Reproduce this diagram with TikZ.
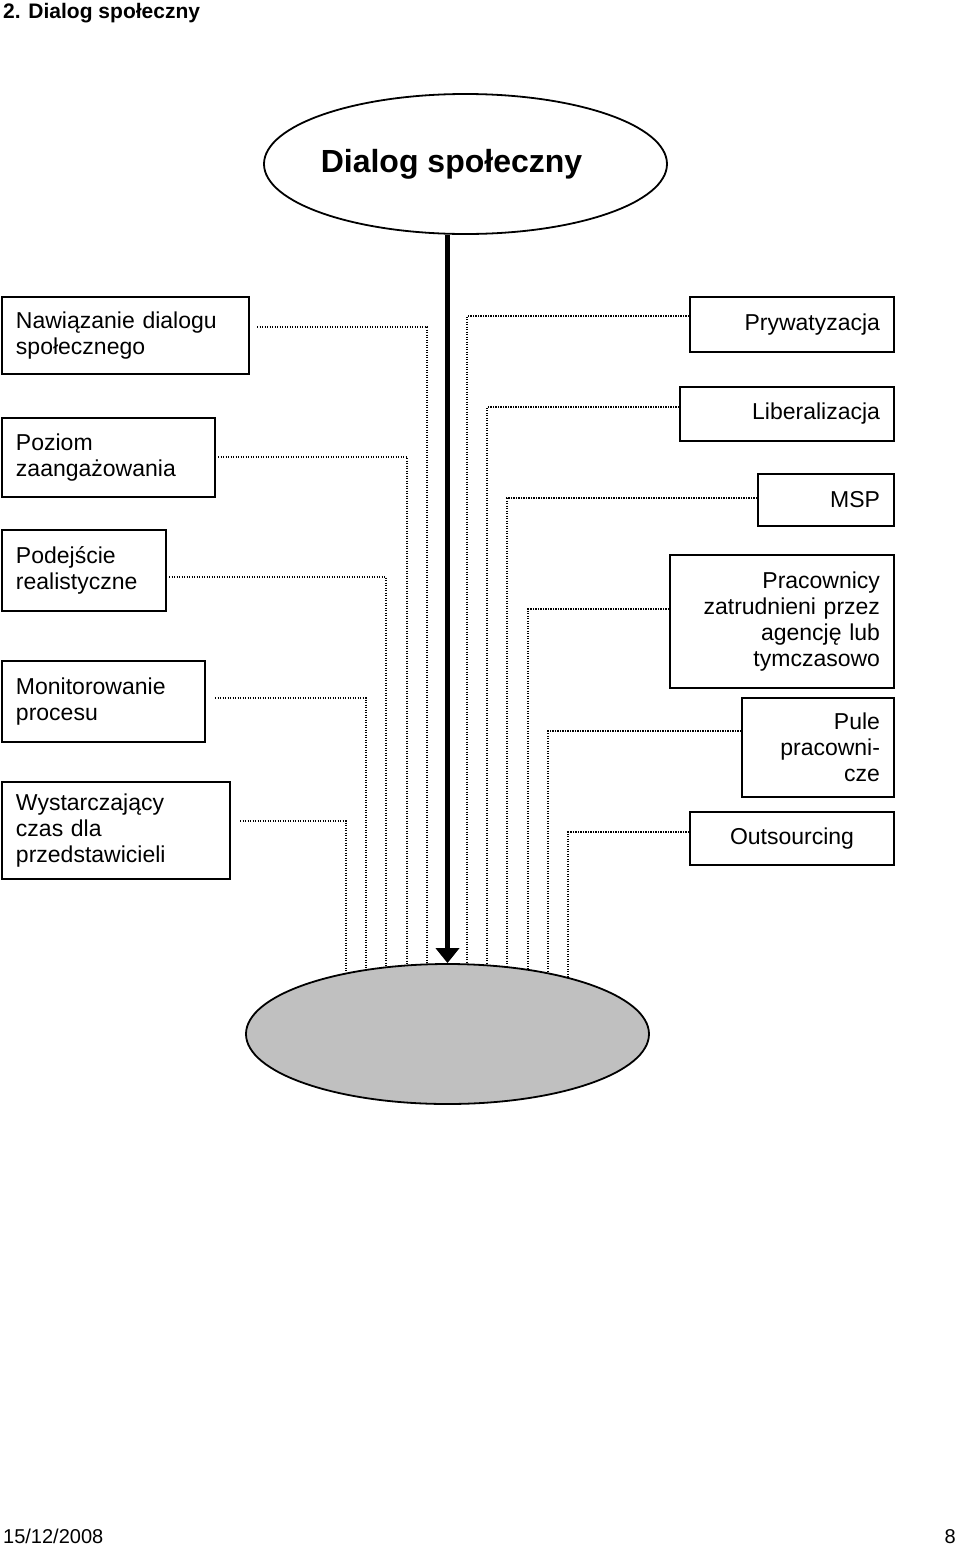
\documentclass[tikz,border=0pt]{standalone}
\usepackage{fontspec}
\setmainfont{Liberation Sans}
\usetikzlibrary{arrows.meta,shapes.geometric}

\pgfdeclarelayer{background}
\pgfsetlayers{background,main}

\tikzset{
  leftbox/.style={draw, line width=2pt, inner xsep=14pt, inner ysep=0pt,
    align=left, anchor=north west, font=\fontsize{23}{26}\selectfont},
  rightbox/.style={leftbox, align=right},
  dotline/.style={line width=1.2pt, dash pattern=on 1.2pt off 1.3pt},
  mainarrow/.style={line width=5pt, -{Triangle[width=23pt,length=15pt]}}
}

\begin{document}
\begin{tikzpicture}[x=1pt, y=-1pt]
  \useasboundingbox (0,0) rectangle (960,1545);

  % header and footer
  \node[anchor=base west, inner sep=0, font=\fontsize{21}{24}\selectfont\bfseries] (head) at (3,18) {2. Dialog społeczny};
  \node[anchor=base west, inner sep=0, font=\fontsize{20}{24}\selectfont] (date) at (3,1543) {15/12/2008};
  \node[anchor=base east, inner sep=0, font=\fontsize{20}{24}\selectfont] (page) at (956,1543) {8};

  % the two ellipses
  \node[draw, ellipse, line width=1.8pt, minimum width=403pt, minimum height=140pt,
    label={[xshift=-14pt, font=\fontsize{32}{36}\selectfont\bfseries]center:Dialog społeczny}] (top) at (465.5,164) {};
  \node[draw, ellipse, line width=1.8pt, fill={rgb,255:red,192;green,192;blue,192},
    minimum width=403pt, minimum height=140pt] (bot) at (447.5,1034) {};

  % left column
  \node[leftbox, text width=219pt, minimum height=77pt] (nawiazanie) at (1,296) {Nawiązanie dialogu\\społecznego};
  \node[leftbox, text width=185pt, minimum height=79pt] (poziom) at (1,417) {Poziom\\zaangażowania};
  \node[leftbox, text width=136pt, minimum height=81pt] (podejscie) at (1,529) {Podejście\\realistyczne};
  \node[leftbox, text width=175pt, minimum height=81pt] (monitor) at (1,660) {Monitorowanie\\procesu};
  \node[leftbox, text width=200pt, minimum height=97pt] (czas) at (1,781) {Wystarczający\\czas dla\\przedstawicieli};

  % right column
  \node[rightbox, text width=176pt, minimum height=55pt] (prywat) at (689,296) {Prywatyzacja};
  \node[rightbox, text width=186pt, minimum height=54pt] (liberal) at (679,386) {Liberalizacja};
  \node[rightbox, text width=108pt, minimum height=52pt] (msp) at (757,473) {MSP};
  \node[rightbox, text width=196pt, minimum height=133pt] (agencja) at (669,554) {Pracownicy\\zatrudnieni przez\\agencję lub\\tymczasowo};
  \node[rightbox, text width=124pt, minimum height=99pt] (pule) at (741,697) {Pule\\pracowni-\\cze};
  \node[leftbox, align=center, text width=176pt, minimum height=53pt] (outsrc) at (689,811) {Outsourcing};

  % bends of the dotted connectors
  \coordinate (k1) at (427,327);
  \coordinate (k2) at (407,457);
  \coordinate (k3) at (386,577);
  \coordinate (k4) at (366,698);
  \coordinate (k5) at (346,821);
  \coordinate (m1) at (467,316);
  \coordinate (m2) at (487,407);
  \coordinate (m3) at (507,498);
  \coordinate (m4) at (528,609);
  \coordinate (m5) at (548,731);
  \coordinate (m6) at (568,832);

  \begin{pgfonlayer}{background}
    \draw[dotline] ([xshift=7pt]nawiazanie.east |- k1) -- (k1) -- (k1 |- bot.center);
    \draw[dotline] ([xshift=2pt]poziom.east |- k2) -- (k2) -- (k2 |- bot.center);
    \draw[dotline] ([xshift=2pt]podejscie.east |- k3) -- (k3) -- (k3 |- bot.center);
    \draw[dotline] ([xshift=9pt]monitor.east |- k4) -- (k4) -- (k4 |- bot.center);
    \draw[dotline] ([xshift=9pt]czas.east |- k5) -- (k5) -- (k5 |- bot.center);
    \draw[dotline] (prywat.west |- m1) -- (m1) -- (m1 |- bot.center);
    \draw[dotline] (liberal.west |- m2) -- (m2) -- (m2 |- bot.center);
    \draw[dotline] (msp.west |- m3) -- (m3) -- (m3 |- bot.center);
    \draw[dotline] (agencja.west |- m4) -- (m4) -- (m4 |- bot.center);
    \draw[dotline] (pule.west |- m5) -- (m5) -- (m5 |- bot.center);
    \draw[dotline] (outsrc.west |- m6) -- (m6) -- (m6 |- bot.center);
  \end{pgfonlayer}

  % main arrow
  \draw[mainarrow] (bot.north |- top.south) -- (bot.north);
\end{tikzpicture}
\end{document}
